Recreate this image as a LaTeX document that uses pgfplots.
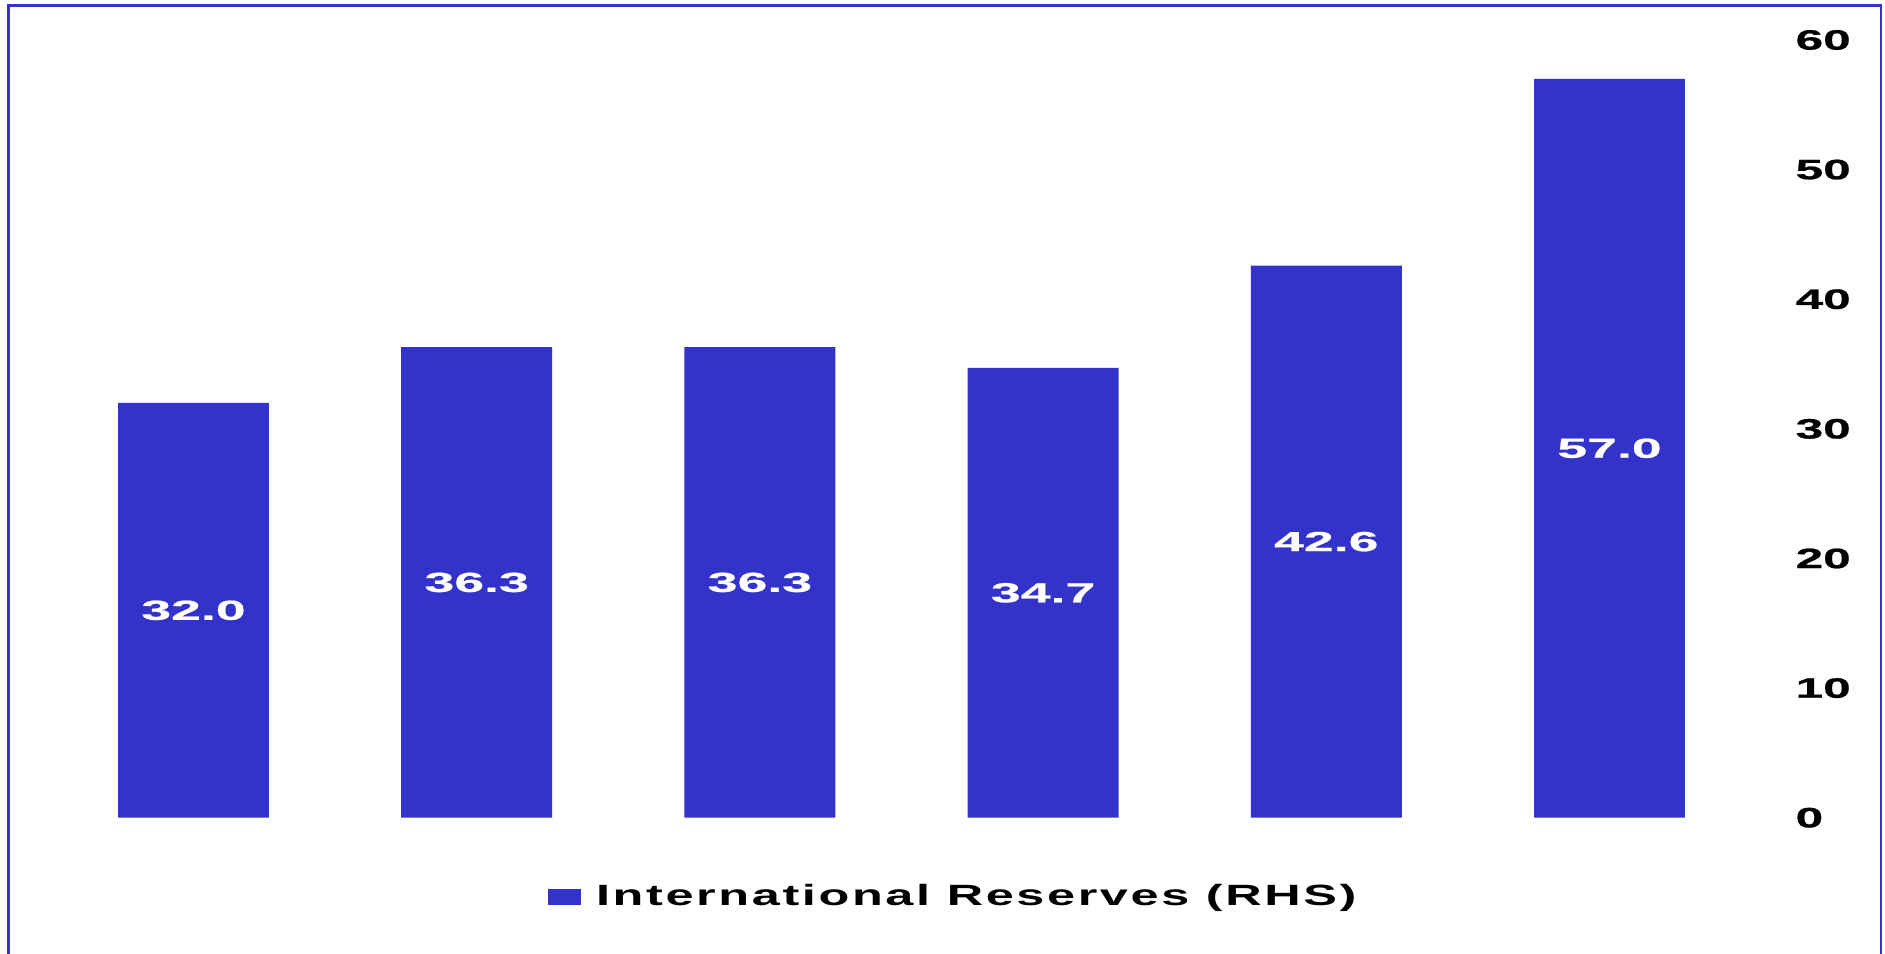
\documentclass[border=0pt]{standalone}
\usepackage{pgfplots}
\pgfplotsset{compat=1.18}
\usepackage{pgfplotstable}
\usepackage{fontspec}
\setmainfont{Liberation Sans}
\newfontfamily\tickfont[FakeStretch=1.77, FakeBold=0.8]{Liberation Sans}
\newfontfamily\datafont[FakeStretch=1.95, FakeBold=0.8]{Liberation Sans}
\newfontfamily\legfont[FakeStretch=1.72, LetterSpace=9]{Liberation Sans}
\definecolor{barblue}{HTML}{3333CC}

\pgfplotstableread{
x y lab
0 32.0 32.0
1 36.3 36.3
2 36.3 36.3
3 34.7 34.7
4 42.6 42.6
5 57.0 57.0
}\data

\begin{document}
\begin{tikzpicture}
\useasboundingbox (0pt,0pt) rectangle (754pt,381.6pt);
\draw[barblue, line width=0.9pt] (3.4pt,-5pt) -- (3.4pt,379.4pt) -- (752.4pt,379.4pt) -- (752.4pt,-5pt);
\begin{axis}[
  scale only axis,
  width=679.68pt, height=311.08pt,
  anchor=south west, at={(20.76pt,54.52pt)},
  xmin=-0.5, xmax=5.5,
  ymin=0, ymax=60,
  xtick=\empty,
  ytick={0,10,20,30,40,50,60},
  yticklabels={0,10,20,30,40,50,60},
  yticklabel pos=right,
  axis line style={draw=none},
  tick style={draw=none},
  yticklabel style={font=\tickfont\bfseries\fontsize{11.2}{12}\selectfont, anchor=west, xshift=17.6pt, inner sep=0pt},
  legend style={draw=none, fill=none, inner sep=0pt, outer sep=0pt, anchor=west, at={(0.2920,-0.102)},
    font=\legfont\bfseries\fontsize{11.72}{12}\selectfont,
    nodes={inner sep=0pt},
    /tikz/column 1/.style={column sep=6pt}},
  clip=false,
]
\addplot[ybar, fill=barblue, draw=none, bar width=0.533, bar shift=0pt,
  legend image code/.code={\fill[barblue] (0pt,-3.2pt) rectangle (13.2pt,3.2pt);}]
  table[x=x, y=y] {\data};
\addlegendentry{International Reserves (RHS)}
\addplot[draw=none, mark=none, forget plot, nodes near coords, point meta=explicit symbolic,
  nodes near coords style={font=\datafont\bfseries\fontsize{11}{12}\selectfont, text=white, anchor=center, inner sep=0pt}]
  table[x=x, y expr=\thisrow{y}/2, meta=lab] {\data};
\end{axis}
\end{tikzpicture}
\end{document}
